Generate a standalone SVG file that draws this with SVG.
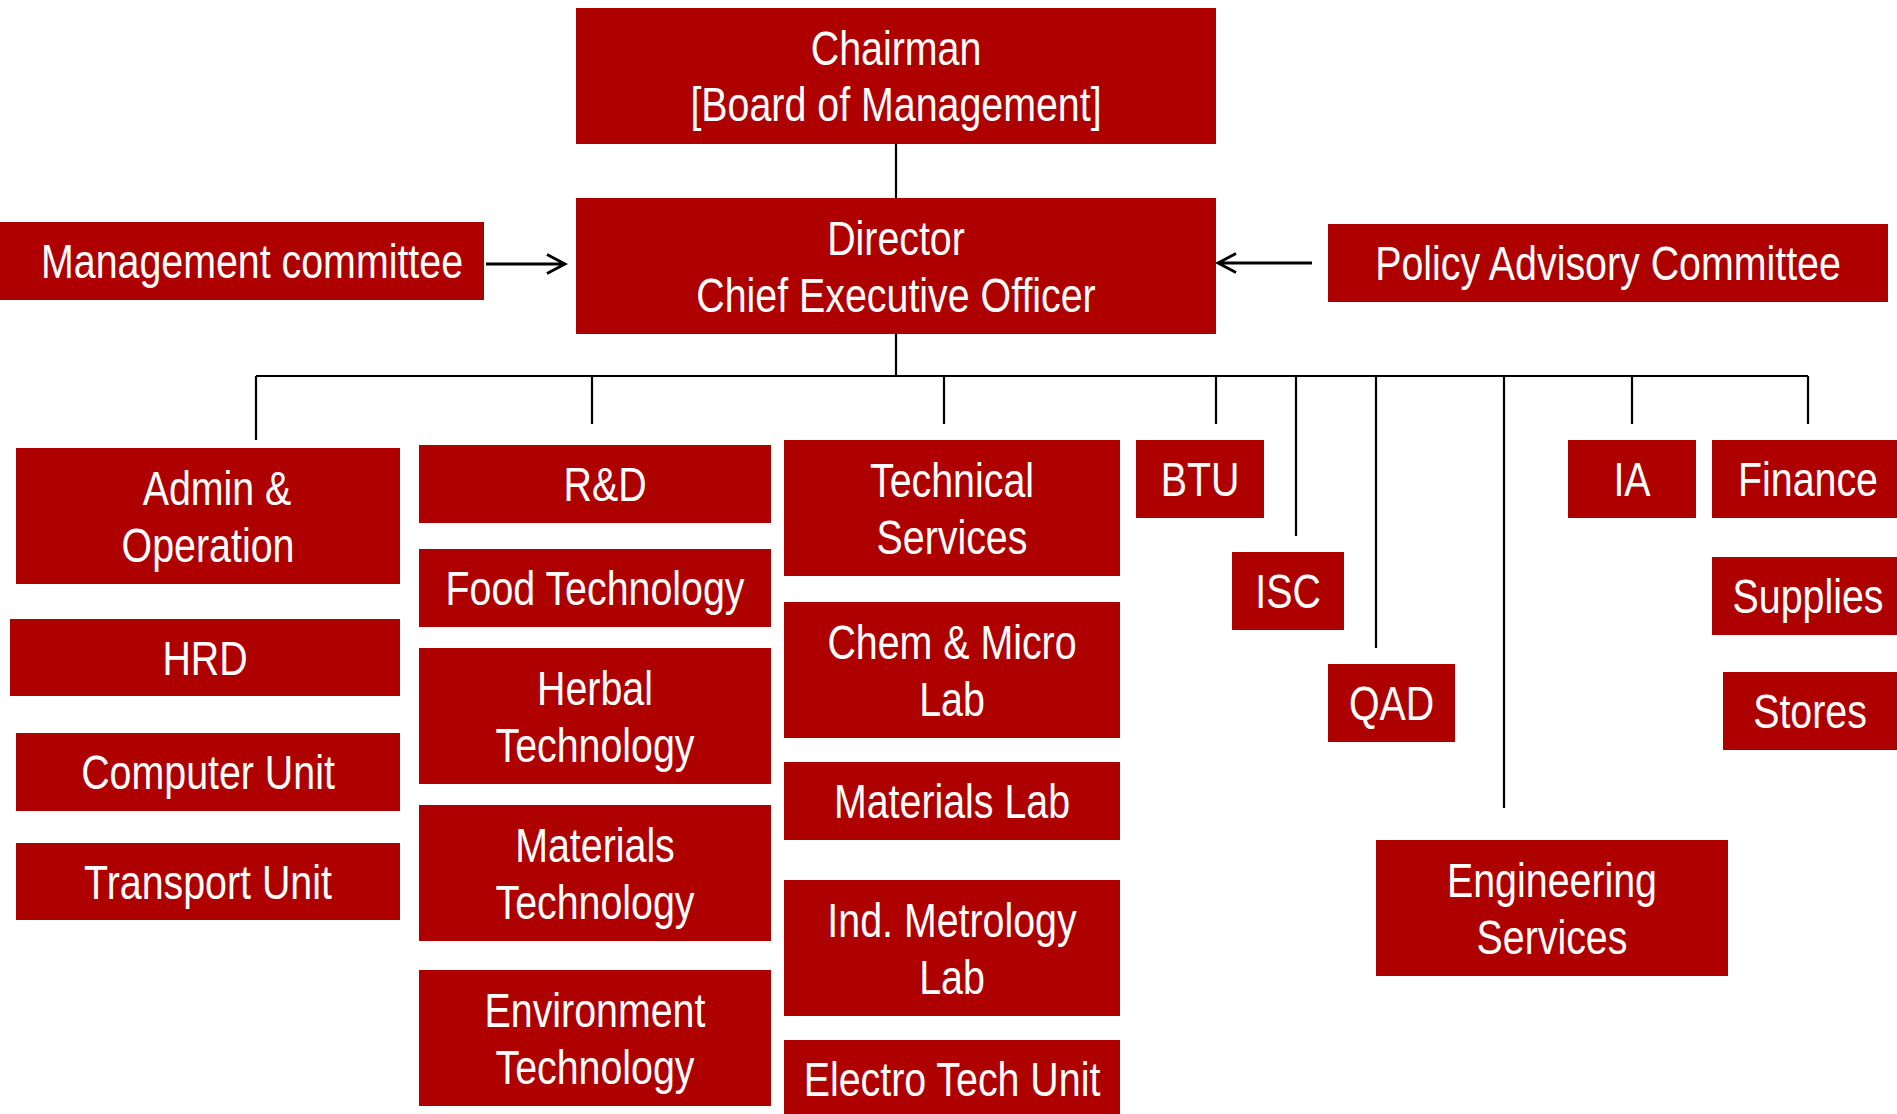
<svg xmlns="http://www.w3.org/2000/svg" width="1897" height="1114" viewBox="0 0 1897 1114">
<style>
.box{fill:#AF0000}
text{font-family:"Liberation Sans",Arial,sans-serif;font-size:48px;fill:#FFFFFF;text-anchor:middle}
.ln{stroke:#000;stroke-width:2.2;fill:none}
.ar{stroke:#000;stroke-width:2.8;fill:none}
</style>
<rect width="1897" height="1114" fill="#fff"/>
<g id="connectors">
<path class="ln" d="M896 144V198M896 334V376M256 376H1808"/>
<path class="ln" d="M256 376V440M592 376V424M944 376V424M1216 376V424M1296 376V536M1376 376V648M1504 376V808M1632 376V424M1808 376V424"/>
<path class="ar" d="M486 264H565M547 254.5L565 264L547 273.5"/>
<path class="ar" d="M1312 263H1218M1236 253.5L1218 263L1236 272.5"/>
</g>
<g id="chairman"><rect class="box" x="576" y="8" width="640" height="136"/><text transform="translate(896 65) scale(.82 1)">Chairman</text><text transform="translate(896 121) scale(.82 1)">[Board of Management]</text></g>
<g id="director"><rect class="box" x="576" y="198" width="640" height="136"/><text transform="translate(896 255) scale(.82 1)">Director</text><text transform="translate(896 312) scale(.82 1)">Chief Executive Officer</text></g>
<g id="management-committee"><rect class="box" x="0" y="222" width="484" height="78"/><text transform="translate(252 278) scale(.82 1)">Management committee</text></g>
<g id="policy-advisory"><rect class="box" x="1328" y="224" width="560" height="78"/><text transform="translate(1608 280) scale(.82 1)">Policy Advisory Committee</text></g>
<g id="admin"><rect class="box" x="16" y="448" width="384" height="136"/><text transform="translate(217 505) scale(.82 1)">Admin &amp;</text><text transform="translate(208 562) scale(.82 1)">Operation</text></g>
<g id="hrd"><rect class="box" x="10" y="619" width="390" height="77"/><text transform="translate(205 675) scale(.82 1)">HRD</text></g>
<g id="computer-unit"><rect class="box" x="16" y="733" width="384" height="78"/><text transform="translate(208 789) scale(.82 1)">Computer Unit</text></g>
<g id="transport-unit"><rect class="box" x="16" y="843" width="384" height="77"/><text transform="translate(208 899) scale(.82 1)">Transport Unit</text></g>
<g id="rnd"><rect class="box" x="419" y="445" width="352" height="78"/><text transform="translate(605 501) scale(.82 1)">R&amp;D</text></g>
<g id="food-tech"><rect class="box" x="419" y="549" width="352" height="78"/><text transform="translate(595 605) scale(.82 1)">Food Technology</text></g>
<g id="herbal-tech"><rect class="box" x="419" y="648" width="352" height="136"/><text transform="translate(595 705) scale(.82 1)">Herbal</text><text transform="translate(595 762) scale(.82 1)">Technology</text></g>
<g id="materials-tech"><rect class="box" x="419" y="805" width="352" height="136"/><text transform="translate(595 862) scale(.82 1)">Materials</text><text transform="translate(595 919) scale(.82 1)">Technology</text></g>
<g id="environment-tech"><rect class="box" x="419" y="970" width="352" height="136"/><text transform="translate(595 1027) scale(.82 1)">Environment</text><text transform="translate(595 1084) scale(.82 1)">Technology</text></g>
<g id="technical-services"><rect class="box" x="784" y="440" width="336" height="136"/><text transform="translate(952 497) scale(.82 1)">Technical</text><text transform="translate(952 554) scale(.82 1)">Services</text></g>
<g id="chem-micro"><rect class="box" x="784" y="602" width="336" height="136"/><text transform="translate(952 659) scale(.82 1)">Chem &amp; Micro</text><text transform="translate(952 716) scale(.82 1)">Lab</text></g>
<g id="materials-lab"><rect class="box" x="784" y="762" width="336" height="78"/><text transform="translate(952 818) scale(.82 1)">Materials Lab</text></g>
<g id="ind-metrology"><rect class="box" x="784" y="880" width="336" height="136"/><text transform="translate(952 937) scale(.82 1)">Ind. Metrology</text><text transform="translate(952 994) scale(.82 1)">Lab</text></g>
<g id="electro-tech"><rect class="box" x="784" y="1040" width="336" height="80"/><text transform="translate(952 1096) scale(.82 1)">Electro Tech Unit</text></g>
<g id="btu"><rect class="box" x="1136" y="440" width="128" height="78"/><text transform="translate(1200 496) scale(.82 1)">BTU</text></g>
<g id="isc"><rect class="box" x="1232" y="552" width="112" height="78"/><text transform="translate(1288 608) scale(.82 1)">ISC</text></g>
<g id="qad"><rect class="box" x="1328" y="664" width="127" height="78"/><text transform="translate(1391.5 720) scale(.82 1)">QAD</text></g>
<g id="ia"><rect class="box" x="1568" y="440" width="128" height="78"/><text transform="translate(1632 496) scale(.82 1)">IA</text></g>
<g id="finance"><rect class="box" x="1712" y="440" width="192" height="78"/><text transform="translate(1808 496) scale(.82 1)">Finance</text></g>
<g id="supplies"><rect class="box" x="1712" y="557" width="192" height="78"/><text transform="translate(1808 613) scale(.82 1)">Supplies</text></g>
<g id="stores"><rect class="box" x="1723" y="672" width="180" height="78"/><text transform="translate(1810 728) scale(.82 1)">Stores</text></g>
<g id="engineering"><rect class="box" x="1376" y="840" width="352" height="136"/><text transform="translate(1552 897) scale(.82 1)">Engineering</text><text transform="translate(1552 954) scale(.82 1)">Services</text></g>
</svg>
